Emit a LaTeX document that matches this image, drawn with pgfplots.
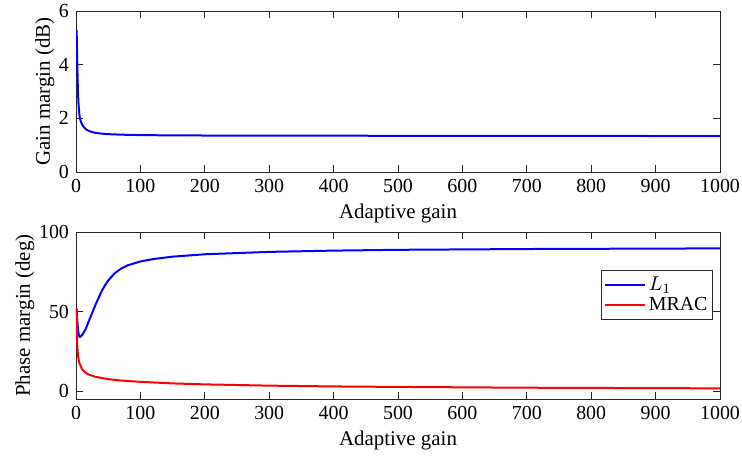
\documentclass[border=0pt]{standalone}
\usepackage{pgfplots}
\pgfplotsset{compat=1.18}
\usepackage{fontspec}
\setmainfont{Liberation Serif}
\definecolor{axgray}{rgb}{0.15,0.15,0.15}
\begin{document}
\begin{tikzpicture}
\pgfplotsset{
  every axis/.append style={
    scale only axis, width=322bp,
    xmin=0, xmax=1000,
    xtick={0,100,...,1000},
    tick align=inside, tickpos=both,
    major tick length=3.5bp,
    axis line style={axgray, line width=0.4bp},
    every tick/.style={axgray, line width=0.4bp},
    font=\fontsize{10.5}{12}\selectfont,
    tick label style={font=\fontsize{10}{12}\selectfont},
    /pgf/number format/assume math mode=true,
    scaled ticks=false,
    xticklabel style={/pgf/number format/set thousands separator={}},
    xlabel={Adaptive gain},
    xlabel style={yshift=1bp},
    ylabel style={yshift=-4.5bp},
  }
}
\begin{axis}[name=top, at={(0,0)}, anchor=north west,
  height=80.5bp, ymin=0, ymax=6, ytick={0,2,4,6},
  ylabel={Gain margin (dB)}]
\addplot[blue, line width=1bp] coordinates {
(1,5.3)(1.5,4.6)(2,4.0)(3,3.0)(4,2.5)(5,2.2)(6,2.0)(8,1.85)(10,1.75)(12,1.68)(15,1.6)(20,1.53)(25,1.49)(30,1.46)(40,1.43)(50,1.41)(60,1.40)(80,1.385)(100,1.375)(150,1.365)(200,1.36)(300,1.355)(500,1.35)(700,1.345)(1000,1.34)};
\end{axis}
\begin{axis}[name=bot, at={(0,-110.5bp)}, anchor=north west,
  height=83.5bp, ymin=-5, ymax=100, ytick={0,50,100},
  ylabel={Phase margin (deg)},
  legend style={at={(0.989,0.772)}, anchor=north east, draw=axgray, line width=0.4bp,
    font=\fontsize{10}{12}\selectfont, inner sep=1bp, row sep=-2bp,
    nodes={inner xsep=1.5bp}},
  legend cell align=left,
  legend image code/.code={\draw[#1, line width=1bp] (0bp,0bp) -- (20bp,0bp);}]
\addplot[blue, line width=1bp] coordinates {
(1,52)(2,45)(3,39)(4,36)(5,34.5)(6,34)(8,34.5)(10,35.5)(15,39)(20,44)(25,49)(30,54)(35,58.5)(40,63)(45,66.5)(50,69.5)(60,74)(70,77)(80,79)(100,81.5)(120,83)(150,84.5)(200,86)(300,87.5)(400,88.3)(500,88.8)(700,89.3)(1000,89.7)};
\addlegendentry{$L_1$}
\addplot[red, line width=1bp] coordinates {
(1,52)(1.5,35)(2,28)(3,23)(4,20)(5,18)(6,17)(8,15)(10,13.5)(15,11.5)(20,10.3)(30,9)(40,8.2)(50,7.5)(70,6.6)(100,5.8)(150,4.8)(200,4.2)(300,3.4)(400,2.9)(500,2.6)(700,2.1)(1000,1.7)};
\addlegendentry{MRAC}
\end{axis}
\pgfresetboundingbox
\path[use as bounding box] (-38bp,5.5bp) rectangle (333bp,-224bp);
\end{tikzpicture}
\end{document}
